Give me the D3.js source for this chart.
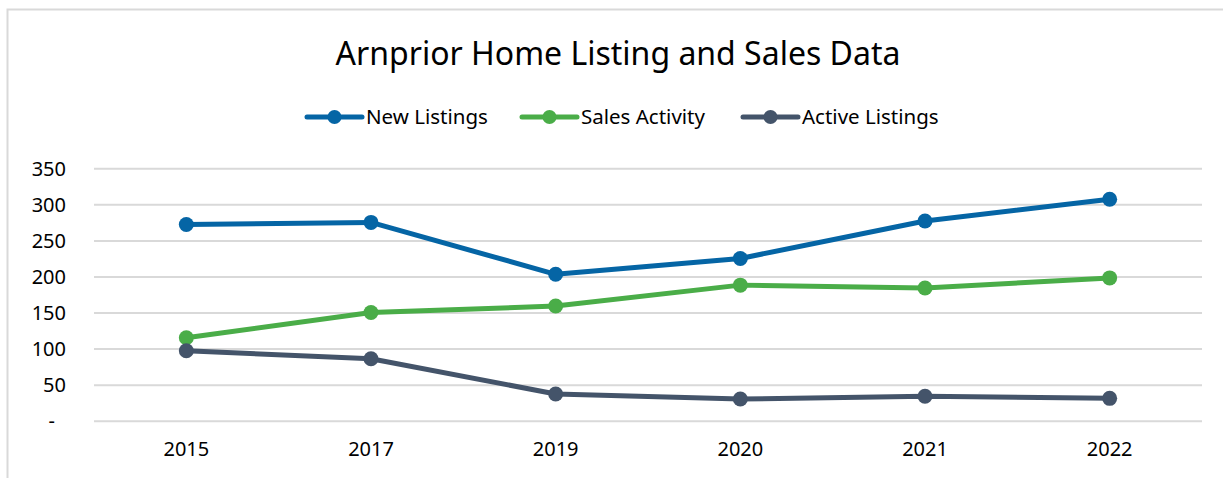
<!DOCTYPE html>
<html>
<head>
<meta charset="utf-8">
<script src="https://cdn.jsdelivr.net/npm/d3@7"></script>
<style>
  body { margin: 0; background: #fff; }
  svg { display: block; font-family: 'Noto Sans', 'Open Sans', sans-serif; }
  .grid line { stroke: #d9d9d9; stroke-width: 2; }
  .grid path { display: none; }
  .axis path, .axis line { display: none; }
  .axis text { fill: #000; font-size: 20px; font-family: 'Noto Sans', 'Open Sans', sans-serif; }
</style>
</head>
<body>
<svg id="chart" width="1223" height="478"></svg>
<script>
const years = ['2015', '2017', '2019', '2020', '2021', '2022']
const newListings = [272, 275, 203, 225, 277, 307]
const salesActivity = [115, 150, 159, 188, 184, 198]
const activeListings = [97, 86, 37, 30, 34, 31]
const yTicks = [0, 50, 100, 150, 200, 250, 300, 350]

const series = [
  { name: 'New Listings', values: newListings, color: '#0565a5' },
  { name: 'Sales Activity', values: salesActivity, color: '#4aad48' },
  { name: 'Active Listings', values: activeListings, color: '#44546a' }
]

const svg = d3.select('#chart')

// Chart area frame (bottom and right run off the picture)
svg.append('rect')
  .attr('x', 7.5).attr('y', 9.5)
  .attr('width', 1230).attr('height', 480)
  .attr('fill', '#fff')
  .attr('stroke', '#d9d9d9')
  .attr('stroke-width', 2)

const plot = { left: 94, right: 1202, top: 168.3, bottom: 420.7 }

let x = d3.scaleBand()
  .domain(years)
  .range([plot.left, plot.right])

let y = d3.scaleLinear()
  .domain([0, 350])
  .range([plot.bottom, plot.top])

// Gridlines
svg.append('g')
  .attr('class', 'grid')
  .attr('transform', `translate(${plot.left},0)`)
  .call(d3.axisLeft(y).tickValues(yTicks).tickSize(-(plot.right - plot.left)).tickFormat(''))

// Y axis labels (accounting style: zero shown as a dash, padded)
let yAxis = svg.append('g')
  .attr('class', 'axis axis-y')
  .attr('transform', `translate(66,0)`)
  .call(d3.axisLeft(y).tickValues(yTicks).tickSize(0).tickPadding(0)
    .tickFormat(d => d === 0 ? '-' : d))
yAxis.selectAll('.tick text')
  .attr('dy', '0.35em')
  .attr('x', d => d === 0 ? -11 : 0)

// X axis labels
svg.append('g')
  .attr('class', 'axis axis-x')
  .attr('transform', `translate(0,${plot.bottom})`)
  .call(d3.axisBottom(x).tickSize(0).tickPadding(21))

// Lines and markers
let line = d3.line()
  .x((d, i) => x(years[i]) + x.bandwidth() / 2)
  .y(d => y(d))

series.forEach(s => {
  let g = svg.append('g').attr('class', 'series')
  g.append('path')
    .datum(s.values)
    .attr('d', line)
    .attr('fill', 'none')
    .attr('stroke', s.color)
    .attr('stroke-width', 5)
    .attr('stroke-linejoin', 'round')
  g.selectAll('circle')
    .data(s.values)
    .join('circle')
    .attr('cx', (d, i) => x(years[i]) + x.bandwidth() / 2)
    .attr('cy', d => y(d))
    .attr('r', 7.5)
    .attr('fill', s.color)
})

// Title
svg.append('text')
  .attr('x', 618)
  .attr('y', 65)
  .attr('text-anchor', 'middle')
  .style('font-size', '32px')
  .style('fill', '#000')
  .text('Arnprior Home Listing and Sales Data')

// Legend
let legendX = [307, 522, 743]
let legend = svg.append('g').attr('class', 'legend')
series.forEach((s, i) => {
  let item = legend.append('g')
    .attr('transform', `translate(${legendX[i]},117)`)
  item.append('line')
    .attr('x1', 0).attr('x2', 55)
    .attr('stroke', s.color)
    .attr('stroke-width', 5)
    .attr('stroke-linecap', 'round')
  item.append('circle')
    .attr('cx', 27.5).attr('r', 7)
    .attr('fill', s.color)
  item.append('text')
    .attr('x', 59)
    .attr('dy', '0.35em')
    .style('font-size', '20.5px')
    .style('fill', '#000')
    .text(s.name)
})
</script>
</body>
</html>
